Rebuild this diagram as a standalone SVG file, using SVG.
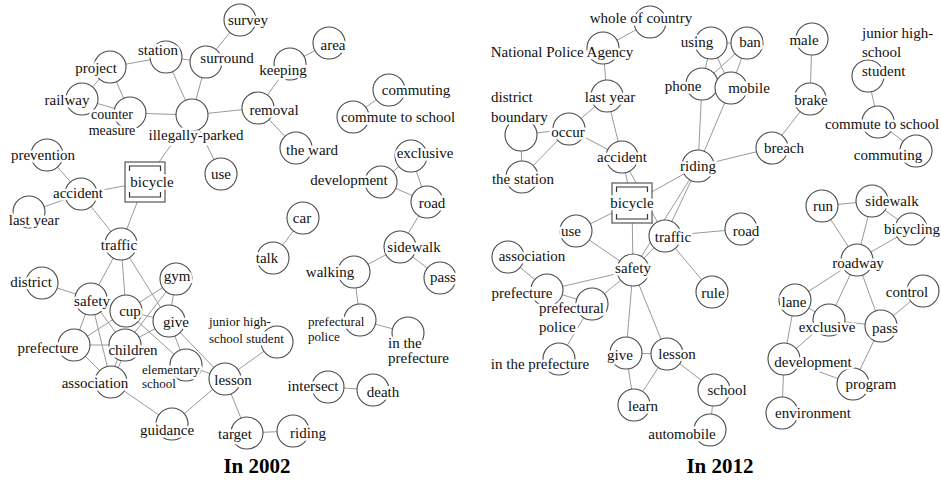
<svg xmlns="http://www.w3.org/2000/svg" width="941" height="481" viewBox="0 0 941 481">
<style>
.bg{fill:#fff}
.e line{stroke:#9a9a9a;stroke-width:1}
.n circle{fill:#fff;stroke:#4a4a4a;stroke-width:1.1}
.n text{font-family:"Liberation Serif",serif;font-size:15px;fill:#111;text-anchor:middle;stroke:#fff;stroke-width:5;stroke-linejoin:round;paint-order:stroke}
.n text.s{font-size:13px}
.n text.m{font-size:14px}
.n text.l{text-anchor:start}
.sq{fill:#fff;stroke:#555;stroke-width:1.2}
.br{fill:none;stroke:#333;stroke-width:1.2}
.title{font-family:"Liberation Serif",serif;font-size:21px;font-weight:bold;fill:#000;text-anchor:middle}
</style>
<rect class="bg" x="0" y="0" width="941" height="481"/>
<g id="connectors" class="e">
<!-- 2002 -->
<line x1="240" y1="20" x2="206" y2="62"/>
<line x1="166" y1="57" x2="206" y2="62"/>
<line x1="166" y1="57" x2="110" y2="67"/>
<line x1="166" y1="57" x2="192" y2="115"/>
<line x1="206" y1="62" x2="192" y2="115"/>
<line x1="110" y1="67" x2="82" y2="99"/>
<line x1="110" y1="67" x2="130" y2="113"/>
<line x1="82" y1="99" x2="130" y2="113"/>
<line x1="130" y1="113" x2="192" y2="115"/>
<line x1="192" y1="115" x2="258" y2="108"/>
<line x1="192" y1="115" x2="145" y2="182"/>
<line x1="192" y1="115" x2="221" y2="174"/>
<line x1="258" y1="108" x2="290" y2="64"/>
<line x1="290" y1="64" x2="329" y2="43"/>
<line x1="258" y1="108" x2="296" y2="148"/>
<line x1="389" y1="90" x2="353" y2="117"/>
<line x1="381" y1="182" x2="411" y2="156"/>
<line x1="381" y1="182" x2="427" y2="202"/>
<line x1="411" y1="156" x2="427" y2="202"/>
<line x1="427" y1="202" x2="400" y2="247"/>
<line x1="303" y1="218" x2="273" y2="258"/>
<line x1="400" y1="247" x2="354" y2="272"/>
<line x1="400" y1="247" x2="440" y2="278"/>
<line x1="354" y1="272" x2="360" y2="320"/>
<line x1="360" y1="320" x2="408" y2="333"/>
<line x1="328" y1="387" x2="373" y2="390"/>
<line x1="247" y1="433" x2="293" y2="431"/>
<line x1="225" y1="379" x2="247" y2="433"/>
<line x1="225" y1="379" x2="277" y2="342"/>
<line x1="225" y1="379" x2="172" y2="424"/>
<line x1="111" y1="382" x2="172" y2="424"/>
<line x1="225" y1="379" x2="169" y2="321"/>
<line x1="225" y1="379" x2="186" y2="365"/>
<line x1="169" y1="321" x2="186" y2="365"/>
<line x1="126" y1="311" x2="186" y2="365"/>
<line x1="121" y1="244" x2="91" y2="299"/>
<line x1="121" y1="244" x2="126" y2="311"/>
<line x1="121" y1="244" x2="169" y2="321"/>
<line x1="121" y1="244" x2="145" y2="182"/>
<line x1="121" y1="244" x2="81" y2="194"/>
<line x1="81" y1="194" x2="145" y2="182"/>
<line x1="81" y1="194" x2="47" y2="155"/>
<line x1="81" y1="194" x2="29" y2="212"/>
<line x1="42" y1="283" x2="91" y2="299"/>
<line x1="91" y1="299" x2="74" y2="345"/>
<line x1="91" y1="299" x2="125" y2="345"/>
<line x1="91" y1="299" x2="111" y2="382"/>
<line x1="91" y1="299" x2="126" y2="311"/>
<line x1="126" y1="311" x2="176" y2="279"/>
<line x1="176" y1="279" x2="169" y2="321"/>
<line x1="176" y1="279" x2="125" y2="345"/>
<line x1="169" y1="321" x2="125" y2="345"/>
<line x1="126" y1="311" x2="169" y2="321"/>
<line x1="74" y1="345" x2="125" y2="345"/>
<line x1="74" y1="345" x2="111" y2="382"/>
<line x1="74" y1="345" x2="126" y2="311"/>
<line x1="123" y1="345" x2="109" y2="382"/>
<line x1="127" y1="345" x2="113" y2="382"/>
<!-- 2012 -->
<line x1="650" y1="22" x2="603" y2="48"/>
<line x1="603" y1="48" x2="607" y2="96"/>
<line x1="607" y1="96" x2="569" y2="129"/>
<line x1="607" y1="96" x2="622" y2="157"/>
<line x1="569" y1="129" x2="622" y2="157"/>
<line x1="569" y1="129" x2="521" y2="135"/>
<line x1="569" y1="129" x2="522" y2="177"/>
<line x1="521" y1="135" x2="522" y2="177"/>
<line x1="622" y1="157" x2="632" y2="203"/>
<line x1="622" y1="157" x2="665" y2="236"/>
<line x1="632" y1="203" x2="698" y2="166"/>
<line x1="632" y1="203" x2="576" y2="231"/>
<line x1="632" y1="203" x2="633" y2="270"/>
<line x1="632" y1="203" x2="665" y2="236"/>
<line x1="698" y1="166" x2="665" y2="236"/>
<line x1="698" y1="166" x2="633" y2="270"/>
<line x1="665" y1="236" x2="633" y2="270"/>
<line x1="698" y1="166" x2="702" y2="84"/>
<line x1="698" y1="166" x2="731" y2="88"/>
<line x1="698" y1="166" x2="772" y2="148"/>
<line x1="772" y1="148" x2="810" y2="99"/>
<line x1="810" y1="99" x2="812" y2="39"/>
<line x1="868" y1="76" x2="878" y2="122"/>
<line x1="878" y1="122" x2="916" y2="151"/>
<line x1="711" y1="43" x2="747" y2="43"/>
<line x1="711" y1="43" x2="702" y2="84"/>
<line x1="711" y1="43" x2="731" y2="88"/>
<line x1="747" y1="43" x2="702" y2="84"/>
<line x1="747" y1="43" x2="731" y2="88"/>
<line x1="702" y1="84" x2="731" y2="88"/>
<line x1="665" y1="236" x2="741" y2="229"/>
<line x1="665" y1="236" x2="712" y2="292"/>
<line x1="576" y1="231" x2="633" y2="270"/>
<line x1="633" y1="270" x2="547" y2="290"/>
<line x1="633" y1="270" x2="592" y2="304"/>
<line x1="508" y1="257" x2="547" y2="290"/>
<line x1="547" y1="290" x2="592" y2="304"/>
<line x1="592" y1="304" x2="559" y2="359"/>
<line x1="633" y1="270" x2="626" y2="353"/>
<line x1="633" y1="270" x2="667" y2="354"/>
<line x1="626" y1="353" x2="667" y2="354"/>
<line x1="626" y1="353" x2="634" y2="405"/>
<line x1="667" y1="354" x2="634" y2="405"/>
<line x1="667" y1="354" x2="714" y2="390"/>
<line x1="714" y1="390" x2="710" y2="430"/>
<line x1="822" y1="206" x2="872" y2="201"/>
<line x1="822" y1="206" x2="857" y2="260"/>
<line x1="872" y1="201" x2="857" y2="260"/>
<line x1="872" y1="201" x2="911" y2="229"/>
<line x1="911" y1="229" x2="857" y2="260"/>
<line x1="857" y1="260" x2="795" y2="300"/>
<line x1="857" y1="260" x2="829" y2="320"/>
<line x1="857" y1="260" x2="881" y2="326"/>
<line x1="881" y1="326" x2="923" y2="291"/>
<line x1="881" y1="326" x2="829" y2="320"/>
<line x1="881" y1="326" x2="853" y2="384"/>
<line x1="795" y1="300" x2="829" y2="320"/>
<line x1="795" y1="300" x2="784" y2="359"/>
<line x1="829" y1="320" x2="784" y2="359"/>
<line x1="784" y1="359" x2="782" y2="413"/>
<line x1="784" y1="359" x2="853" y2="384"/>
</g>

<!-- 2002 nodes -->
<g id="n2002-survey" class="n"><circle cx="240" cy="20" r="16"/><text x="248" y="25">survey</text></g>
<g id="n2002-station" class="n"><circle cx="166" cy="57" r="16"/><text x="158" y="55">station</text></g>
<g id="n2002-surround" class="n"><circle cx="206" cy="62" r="16"/><text x="227" y="63">surround</text></g>
<g id="n2002-project" class="n"><circle cx="110" cy="67" r="16"/><text x="96" y="73">project</text></g>
<g id="n2002-railway" class="n"><circle cx="82" cy="99" r="16"/><text x="67" y="105">railway</text></g>
<g id="n2002-countermeasure" class="n"><circle cx="130" cy="113" r="16"/><text class="m" x="112" y="119">counter</text><text class="m" x="112" y="135">measure</text></g>
<g id="n2002-illegally-parked" class="n"><circle cx="192" cy="115" r="16"/><text x="196" y="140">illegally-parked</text></g>
<g id="n2002-removal" class="n"><circle cx="258" cy="108" r="16"/><text x="274" y="115">removal</text></g>
<g id="n2002-keeping" class="n"><circle cx="290" cy="64" r="16"/><text x="283" y="75">keeping</text></g>
<g id="n2002-area" class="n"><circle cx="329" cy="43" r="16"/><text x="333" y="50">area</text></g>
<g id="n2002-theward" class="n"><circle cx="296" cy="148" r="16"/><text x="312" y="155">the ward</text></g>
<g id="n2002-use" class="n"><circle cx="221" cy="174" r="16"/><text x="221" y="179">use</text></g>
<g id="n2002-bicycle" class="n"><rect class="sq" x="125" y="162" width="40" height="40"/><path class="br" d="M129.5,171 V166 H160.5 V171 M129.5,192 V197 H160.5 V192"/><text x="152" y="187">bicycle</text></g>
<g id="n2002-prevention" class="n"><circle cx="47" cy="155" r="16"/><text x="43" y="160">prevention</text></g>
<g id="n2002-accident" class="n"><circle cx="81" cy="194" r="16"/><text x="78" y="198">accident</text></g>
<g id="n2002-lastyear" class="n"><circle cx="29" cy="212" r="16"/><text x="34" y="225">last year</text></g>
<g id="n2002-traffic" class="n"><circle cx="121" cy="244" r="16"/><text x="119" y="250">traffic</text></g>
<g id="n2002-district" class="n"><circle cx="42" cy="283" r="16"/><text x="31" y="287">district</text></g>
<g id="n2002-safety" class="n"><circle cx="91" cy="299" r="16"/><text x="92" y="306">safety</text></g>
<g id="n2002-gym" class="n"><circle cx="176" cy="279" r="16"/><text x="177" y="281">gym</text></g>
<g id="n2002-give" class="n"><circle cx="169" cy="321" r="16"/><text x="176" y="327">give</text></g>
<g id="n2002-cup" class="n"><circle cx="126" cy="311" r="16"/><text x="130" y="316">cup</text></g>
<g id="n2002-prefecture" class="n"><circle cx="74" cy="345" r="16"/><text x="48" y="353">prefecture</text></g>
<g id="n2002-children" class="n"><circle cx="125" cy="345" r="16"/><text x="133" y="355">children</text></g>
<g id="n2002-association" class="n"><circle cx="111" cy="382" r="16"/><text x="95" y="388">association</text></g>
<g id="n2002-elementaryschool" class="n"><circle cx="186" cy="365" r="16"/><text class="s l" x="142" y="374">elementary</text><text class="s l" x="142" y="388">school</text></g>
<g id="n2002-lesson" class="n"><circle cx="225" cy="379" r="16"/><text x="233" y="385">lesson</text></g>
<g id="n2002-juniorhigh" class="n"><circle cx="277" cy="342" r="16"/><text class="s l" x="209" y="326">junior high-</text><text class="s l" x="209" y="343">school student</text></g>
<g id="n2002-guidance" class="n"><circle cx="172" cy="424" r="16"/><text x="167" y="435">guidance</text></g>
<g id="n2002-target" class="n"><circle cx="247" cy="433" r="16"/><text x="235" y="439">target</text></g>
<g id="n2002-riding" class="n"><circle cx="293" cy="431" r="16"/><text x="308" y="438">riding</text></g>
<g id="n2002-intersect" class="n"><circle cx="328" cy="387" r="16"/><text x="313" y="391">intersect</text></g>
<g id="n2002-death" class="n"><circle cx="373" cy="390" r="16"/><text x="383" y="397">death</text></g>
<g id="n2002-car" class="n"><circle cx="303" cy="218" r="16"/><text x="302" y="223">car</text></g>
<g id="n2002-talk" class="n"><circle cx="273" cy="258" r="16"/><text x="267" y="263">talk</text></g>
<g id="n2002-walking" class="n"><circle cx="354" cy="272" r="16"/><text x="330" y="277">walking</text></g>
<g id="n2002-sidewalk" class="n"><circle cx="400" cy="247" r="16"/><text x="414" y="252">sidewalk</text></g>
<g id="n2002-pass" class="n"><circle cx="440" cy="278" r="16"/><text x="443" y="282">pass</text></g>
<g id="n2002-prefecturalpolice" class="n"><circle cx="360" cy="320" r="16"/><text class="s l" x="308" y="326">prefectural</text><text class="s l" x="308" y="341">police</text></g>
<g id="n2002-intheprefecture" class="n"><circle cx="408" cy="333" r="16"/><text class="l" x="388" y="348">in the</text><text class="l" x="388" y="363">prefecture</text></g>
<g id="n2002-road" class="n"><circle cx="427" cy="202" r="16"/><text x="432" y="208">road</text></g>
<g id="n2002-exclusive" class="n"><circle cx="411" cy="156" r="16"/><text x="425" y="158">exclusive</text></g>
<g id="n2002-development" class="n"><circle cx="381" cy="182" r="16"/><text x="349" y="185">development</text></g>
<g id="n2002-commuting" class="n"><circle cx="389" cy="90" r="16"/><text x="416" y="95">commuting</text></g>
<g id="n2002-commutetoschool" class="n"><circle cx="353" cy="117" r="16"/><text x="398" y="122">commute to school</text></g>

<!-- 2012 nodes -->
<g id="n2012-wholeofcountry" class="n"><circle cx="650" cy="22" r="16"/><text x="641" y="23">whole of country</text></g>
<g id="n2012-npa" class="n"><circle cx="603" cy="48" r="16"/><text x="562" y="57">National Police Agency</text></g>
<g id="n2012-lastyear" class="n"><circle cx="607" cy="96" r="16"/><text x="610" y="102">last year</text></g>
<g id="n2012-districtboundary" class="n"><circle cx="521" cy="135" r="16"/><text class="l" x="491" y="102">district</text><text class="l" x="491" y="122">boundary</text></g>
<g id="n2012-occur" class="n"><circle cx="569" cy="129" r="16"/><text x="568" y="137">occur</text></g>
<g id="n2012-thestation" class="n"><circle cx="522" cy="177" r="16"/><text x="523" y="184">the station</text></g>
<g id="n2012-accident" class="n"><circle cx="622" cy="157" r="16"/><text x="622" y="162">accident</text></g>
<g id="n2012-bicycle" class="n"><rect class="sq" x="612" y="183" width="40" height="40"/><path class="br" d="M616.5,192 V187 H647.5 V192 M616.5,214 V219 H647.5 V214"/><text x="632" y="208">bicycle</text></g>
<g id="n2012-using" class="n"><circle cx="711" cy="43" r="16"/><text x="697" y="47">using</text></g>
<g id="n2012-ban" class="n"><circle cx="747" cy="43" r="16"/><text x="750" y="47">ban</text></g>
<g id="n2012-phone" class="n"><circle cx="702" cy="84" r="16"/><text x="683" y="91">phone</text></g>
<g id="n2012-mobile" class="n"><circle cx="731" cy="88" r="16"/><text x="749" y="93">mobile</text></g>
<g id="n2012-riding" class="n"><circle cx="698" cy="166" r="16"/><text x="698" y="171">riding</text></g>
<g id="n2012-breach" class="n"><circle cx="772" cy="148" r="16"/><text x="784" y="153">breach</text></g>
<g id="n2012-male" class="n"><circle cx="812" cy="39" r="16"/><text x="804" y="45">male</text></g>
<g id="n2012-brake" class="n"><circle cx="810" cy="99" r="16"/><text x="811" y="105">brake</text></g>
<g id="n2012-juniorhigh" class="n"><circle cx="868" cy="76" r="16"/><text class="l" x="862" y="38">junior high-</text><text class="l" x="862" y="57">school</text><text class="l" x="862" y="76">student</text></g>
<g id="n2012-commutetoschool" class="n"><circle cx="878" cy="122" r="16"/><text x="882" y="129">commute to school</text></g>
<g id="n2012-commuting" class="n"><circle cx="916" cy="151" r="16"/><text x="888" y="160">commuting</text></g>
<g id="n2012-use" class="n"><circle cx="576" cy="231" r="16"/><text x="571" y="236">use</text></g>
<g id="n2012-traffic" class="n"><circle cx="665" cy="236" r="16"/><text x="673" y="242">traffic</text></g>
<g id="n2012-road" class="n"><circle cx="741" cy="229" r="16"/><text x="746" y="236">road</text></g>
<g id="n2012-rule" class="n"><circle cx="712" cy="292" r="16"/><text x="713" y="298">rule</text></g>
<g id="n2012-association" class="n"><circle cx="508" cy="257" r="16"/><text x="532" y="261">association</text></g>
<g id="n2012-prefecture" class="n"><circle cx="547" cy="290" r="16"/><text x="522" y="298">prefecture</text></g>
<g id="n2012-prefecturalpolice" class="n"><circle cx="592" cy="304" r="16"/><text class="l" x="539" y="313">prefectural</text><text class="l" x="539" y="332">police</text></g>
<g id="n2012-safety" class="n"><circle cx="633" cy="270" r="16"/><text x="633" y="273">safety</text></g>
<g id="n2012-intheprefecture" class="n"><circle cx="559" cy="359" r="16"/><text x="540" y="369">in the prefecture</text></g>
<g id="n2012-give" class="n"><circle cx="626" cy="353" r="16"/><text x="620" y="360">give</text></g>
<g id="n2012-lesson" class="n"><circle cx="667" cy="354" r="16"/><text x="677" y="359">lesson</text></g>
<g id="n2012-learn" class="n"><circle cx="634" cy="405" r="16"/><text x="643" y="411">learn</text></g>
<g id="n2012-school" class="n"><circle cx="714" cy="390" r="16"/><text x="727" y="395">school</text></g>
<g id="n2012-automobile" class="n"><circle cx="710" cy="430" r="16"/><text x="682" y="439">automobile</text></g>
<g id="n2012-run" class="n"><circle cx="822" cy="206" r="16"/><text x="823" y="211">run</text></g>
<g id="n2012-sidewalk" class="n"><circle cx="872" cy="201" r="16"/><text x="892" y="206">sidewalk</text></g>
<g id="n2012-bicycling" class="n"><circle cx="911" cy="229" r="16"/><text x="912" y="234">bicycling</text></g>
<g id="n2012-roadway" class="n"><circle cx="857" cy="260" r="16"/><text x="858" y="268">roadway</text></g>
<g id="n2012-control" class="n"><circle cx="923" cy="291" r="16"/><text x="907" y="297">control</text></g>
<g id="n2012-lane" class="n"><circle cx="795" cy="300" r="16"/><text x="794" y="307">lane</text></g>
<g id="n2012-exclusive" class="n"><circle cx="829" cy="320" r="16"/><text x="827" y="332">exclusive</text></g>
<g id="n2012-pass" class="n"><circle cx="881" cy="326" r="16"/><text x="885" y="333">pass</text></g>
<g id="n2012-program" class="n"><circle cx="853" cy="384" r="16"/><text x="871" y="389">program</text></g>
<g id="n2012-development" class="n"><circle cx="784" cy="359" r="16"/><text x="813" y="367">development</text></g>
<g id="n2012-environment" class="n"><circle cx="782" cy="413" r="16"/><text x="813" y="418">environment</text></g>

<text class="title" x="257" y="473">In 2002</text>
<text class="title" x="720" y="473">In 2012</text>
</svg>
